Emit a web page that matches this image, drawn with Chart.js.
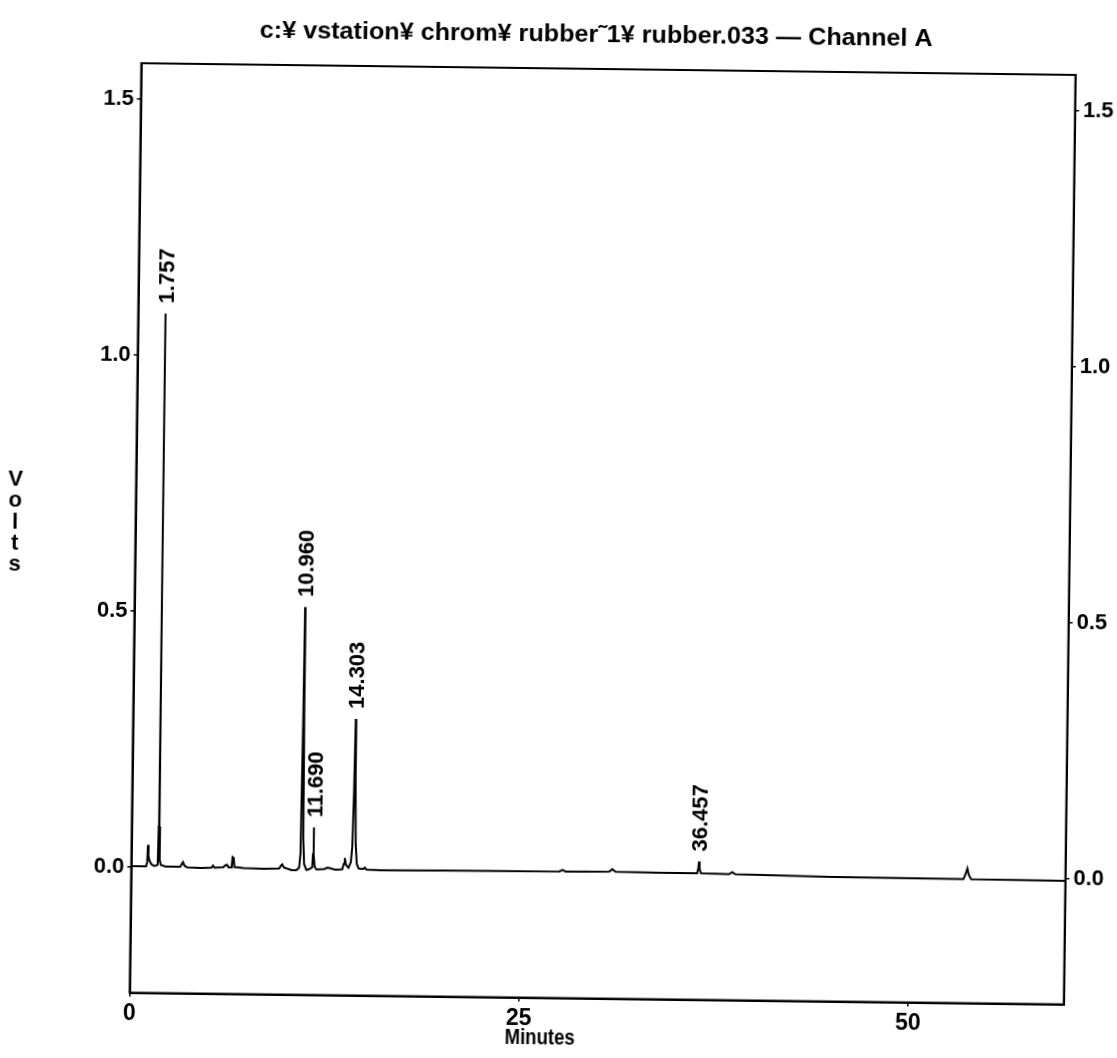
<!DOCTYPE html>
<html>
<head>
<meta charset="utf-8">
<script src="https://cdn.jsdelivr.net/npm/chart.js@4/dist/chart.umd.min.js"></script>
<style>
  html, body { margin: 0; padding: 0; background: #fff; }
  #wrap {
    width: 1117px; height: 1058px; position: relative;
    transform: rotate(0.72deg); transform-origin: 600px 530px;
  }
</style>
</head>
<body>
<div id="wrap"><canvas id="chart"></canvas></div>
<script>
// Chromatogram trace: retention time (min) and detector signal (V)
const timeMin = [
  0.00, 0.95, 1.02, 1.06, 1.10, 1.18, 1.30, 1.45, 1.62, 1.70, 1.735, 1.750, 1.757, 1.765, 1.78, 1.82, 1.90, 2.20,
  3.15, 3.25, 3.32, 3.42, 3.60, 4.50, 5.15, 5.25, 5.35, 5.90, 6.05, 6.15, 6.25, 6.45, 6.50, 6.58, 6.62,
  7.20, 8.50, 9.50, 9.62, 9.70, 9.80, 10.30, 10.60, 10.78, 10.86, 10.93, 10.960, 10.99, 11.03, 11.10,
  11.25, 11.40, 11.62, 11.66, 11.690, 11.72, 11.78, 11.90, 12.40, 12.60, 12.75, 13.10, 13.55, 13.65,
  13.71, 13.78, 13.95, 14.10, 14.18, 14.25, 14.303, 14.34, 14.40, 14.48, 14.60, 14.90, 15.00, 15.10,
  16.00, 20.00, 27.50, 27.70, 27.90, 30.70, 30.90, 31.10, 34.00, 36.35, 36.42, 36.457, 36.50, 36.60,
  38.40, 38.60, 38.80, 45.00, 53.45, 53.60, 53.70, 53.80, 53.95, 60.00
];
const volts = [
  0.002, 0.002, 0.010, 0.044, 0.022, 0.012, 0.006, 0.003, 0.004, 0.006, 0.080, 0.600, 1.082, 0.550, 0.080, 0.015, 0.005, 0.002,
  0.002, 0.008, 0.011, 0.004, 0.001, 0.000, 0.001, 0.005, 0.001, 0.002, 0.006, 0.007, 0.002, 0.002, 0.022, 0.020, 0.003,
  0.001, 0.000, 0.001, 0.007, 0.009, 0.003, -0.002, -0.002, 0.003, 0.030, 0.300, 0.512, 0.320, 0.060, 0.010,
  -0.001, 0.000, 0.004, 0.030, 0.082, 0.030, 0.005, 0.000, 0.001, 0.004, 0.003, 0.000, 0.001, 0.012,
  0.023, 0.010, 0.004, 0.015, 0.045, 0.150, 0.295, 0.180, 0.050, 0.012, 0.003, 0.002, 0.005, 0.001,
  0.000, 0.001, 0.002, 0.005, 0.002, 0.003, 0.008, 0.003, 0.002, 0.002, 0.012, 0.025, 0.010, 0.002,
  0.001, 0.005, 0.001, -0.002, -0.003, 0.008, 0.018, 0.005, -0.003, -0.004
];

// Annotated peaks (retention times)
const peakTimes = [1.757, 10.960, 11.690, 14.303, 36.457];
const peakLabels = ['1.757', '10.960', '11.690', '14.303', '36.457'];

// Axis ticks
const xTickValues = [0, 25, 50];
const yTickValues = [0.0, 0.5, 1.0, 1.5];

const titleText = 'c:¥ vstation¥ chrom¥ rubber˜1¥ rubber.033 — Channel A';
const xTitle = 'Minutes';
const yTitle = 'Volts';

const FONT = "'Liberation Sans', Arial, sans-serif";

const points = timeMin.map((t, i) => ({ x: t, y: volts[i] }));

function fixedTicks(values) {
  return scale => { scale.ticks = values.map(v => ({ value: v })); };
}

// Draws text squeezed/stretched horizontally to a given width
function fitText(ctx, text, cx, cy, width, font) {
  ctx.save();
  ctx.font = font;
  const w = ctx.measureText(text).width;
  ctx.translate(cx, cy);
  ctx.scale(width / w, 1);
  ctx.textAlign = 'center';
  ctx.textBaseline = 'middle';
  ctx.fillText(text, 0, 0);
  ctx.restore();
}

const decorations = {
  id: 'decorations',
  afterDatasetsDraw(chart) {
    const { ctx, chartArea: a, scales } = chart;
    ctx.save();
    ctx.fillStyle = '#000';
    ctx.strokeStyle = '#000';
    // frame
    ctx.lineWidth = 2;
    ctx.strokeRect(a.left, a.top, a.right - a.left, a.bottom - a.top);

    // peak retention-time labels, written upward above each apex
    peakTimes.forEach((t, k) => {
      const i = timeMin.indexOf(t);
      const px = scales.x.getPixelForValue(t);
      const py = scales.y.getPixelForValue(volts[i]);
      ctx.save();
      ctx.translate(px + 2, py - 10);
      ctx.rotate(-Math.PI / 2);
      ctx.textAlign = 'left';
      ctx.textBaseline = 'middle';
      ctx.font = 'bold 22px ' + FONT;
      ctx.fillText(peakLabels[k], 0, 0);
      ctx.restore();
    });

    // titles
    fitText(ctx, titleText, 590, 36, 673, 'bold 23px ' + FONT);
    fitText(ctx, xTitle, 546, 1039, 70, 'bold 22px ' + FONT);
    ctx.font = 'bold 22px ' + FONT;
    ctx.textAlign = 'center';
    ctx.textBaseline = 'middle';
    [...yTitle].forEach((ch, i) => ctx.fillText(ch, 15, 487 + i * 21.3));
    ctx.restore();
  }
};

const axisCommon = {
  type: 'linear',
  grid: { drawOnChartArea: false, drawTicks: true, tickLength: 4, color: '#000', lineWidth: 1.5 },
  border: { display: true, color: '#000', width: 2 },
};

new Chart(document.getElementById('chart'), {
  type: 'line',
  data: {
    datasets: [{
      data: points,
      borderColor: '#000',
      borderWidth: 2,
      pointRadius: 0,
      tension: 0,
      fill: false
    }]
  },
  options: {
    responsive: true,
    maintainAspectRatio: false,
    animation: false,
    events: [],
    layout: { padding: { top: 69, left: 0, right: 0, bottom: 0 } },
    plugins: { legend: { display: false }, tooltip: { enabled: false }, title: { display: false } },
    scales: {
      x: {
        ...axisCommon,
        position: 'bottom',
        min: 0, max: 60,
        afterBuildTicks: fixedTicks(xTickValues),
        afterFit: s => { s.height = 59.5; },
        ticks: { color: '#000', font: { family: FONT, size: 23, weight: 'bold' }, padding: 3, maxRotation: 0 }
      },
      y: {
        ...axisCommon,
        position: 'left',
        min: -0.245, max: 1.57,
        afterBuildTicks: fixedTicks(yTickValues),
        afterFit: s => { s.width = 135.5; },
        ticks: { color: '#000', font: { family: FONT, size: 22, weight: 'bold' }, padding: 3, callback: v => v.toFixed(1) }
      },
      y2: {
        ...axisCommon,
        position: 'right',
        min: -0.245, max: 1.57,
        afterBuildTicks: fixedTicks(yTickValues),
        afterFit: s => { s.width = 47.3; },
        ticks: { color: '#000', font: { family: FONT, size: 22, weight: 'bold' }, padding: 4, callback: v => v.toFixed(1) }
      }
    }
  },
  plugins: [decorations]
});
</script>
</body>
</html>
